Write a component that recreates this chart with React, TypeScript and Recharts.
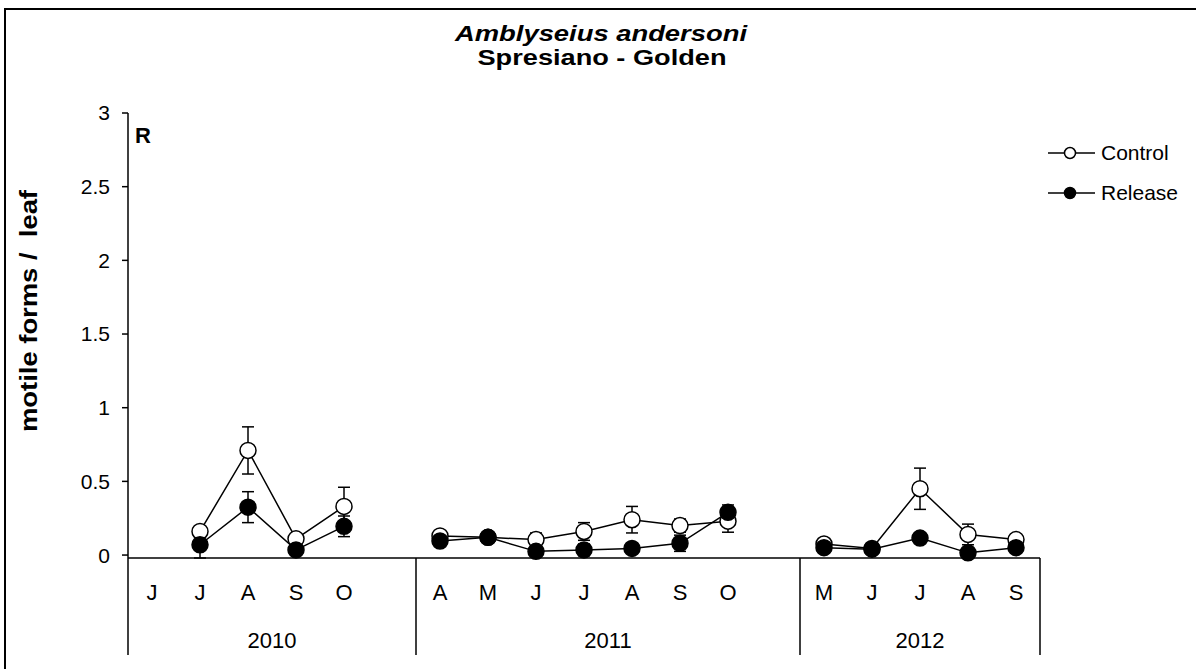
import { LineChart, Line, XAxis, YAxis, ErrorBar } from "recharts";

const FONT = '"Liberation Sans", Arial, Helvetica, sans-serif';
const W = 1196;
const H = 669;
const MARGIN = { top: 113, right: 156, bottom: 14, left: 68 };
const HALF_SLOT = 24;

// month slots, "" = empty gap slot between seasons
const months = ["J", "J", "A", "S", "O", "", "A", "M", "J", "J", "A", "S", "O", "", "M", "J", "J", "A", "S"];
const years = ["2010", "2011", "2012"];
const yearSlots = [6, 8, 5];

const control = [null, 0.16, 0.71, 0.11, 0.33, null, 0.13, 0.12, 0.105, 0.16, 0.24, 0.2, 0.23, null, 0.075, 0.045, 0.45, 0.14, 0.105];
const controlErr = [null, 0.03, 0.16, 0.02, 0.13, null, 0.03, 0.02, 0.045, 0.06, 0.09, 0.045, 0.075, null, 0.02, 0.02, 0.14, 0.07, 0.02];
const release = [null, 0.07, 0.325, 0.035, 0.195, null, 0.095, 0.12, 0.025, 0.035, 0.045, 0.08, 0.29, null, 0.05, 0.04, 0.115, 0.015, 0.05];
const releaseErr = [null, 0.09, 0.105, 0.02, 0.07, null, 0.02, 0.02, 0.02, 0.04, 0.02, 0.055, 0.05, null, 0.02, 0.02, 0.02, 0.02, 0.02];

const yTicks = [0, 0.5, 1, 1.5, 2, 2.5, 3];

const data = months.map((m, i) => ({
  slot: String(i),
  month: m,
  control: control[i],
  controlErr: controlErr[i],
  release: release[i],
  releaseErr: releaseErr[i],
}));

// first slot index of each year group
const groupStarts: number[] = [];
yearSlots.reduce((acc, n) => {
  groupStarts.push(acc);
  return acc + n;
}, 0);

function MonthTick(props: any) {
  const { x, y, index } = props;
  const half = HALF_SLOT;
  const g = groupStarts.indexOf(index);
  const isLast = index === months.length - 1;
  return (
    <g>
      <text x={x} y={y + 42} textAnchor="middle" fontSize={22} fontFamily={FONT} fill="#000">
        {months[index]}
      </text>
      {g >= 0 && (
        <>
          <line x1={x - half} x2={x - half} y1={y} y2={y + 97} stroke="#000" strokeWidth={1.5} />
          <text
            x={x - half + yearSlots[g] * half}
            y={y + 90}
            textAnchor="middle"
            fontSize={22}
            fontFamily={FONT}
            fill="#000"
          >
            {years[g]}
          </text>
        </>
      )}
      {isLast && <line x1={x + half} x2={x + half} y1={y} y2={y + 97} stroke="#000" strokeWidth={1.5} />}
    </g>
  );
}

function Overlay() {
  return (
    <svg
      width={W}
      height={H}
      style={{ position: "absolute", left: 0, top: 0, pointerEvents: "none" }}
      fontFamily={FONT}
    >
      <line x1={5} y1={9} x2={W} y2={9} stroke="#000" strokeWidth={2} />
      <line x1={5} y1={8} x2={5} y2={H} stroke="#000" strokeWidth={2} />
      <text
        x={601}
        y={41}
        textAnchor="middle"
        fontSize={22}
        fontWeight="bold"
        fontStyle="italic"
        textLength={292}
        lengthAdjust="spacingAndGlyphs"
      >
        Amblyseius andersoni
      </text>
      <text
        x={602}
        y={65}
        textAnchor="middle"
        fontSize={22}
        fontWeight="bold"
        textLength={249}
        lengthAdjust="spacingAndGlyphs"
      >
        Spresiano - Golden
      </text>
      <text x={135} y={143} fontSize={22} fontWeight="bold">
        R
      </text>
      <text
        x={0}
        y={0}
        transform="translate(37 311) rotate(-90)"
        textAnchor="middle"
        fontSize={24}
        fontWeight="bold"
        textLength={242}
        lengthAdjust="spacingAndGlyphs"
        style={{ whiteSpace: "pre" }}
      >
        motile forms /  leaf
      </text>
      <g fontSize={21}>
        <line x1={1048} x2={1095} y1={153} y2={153} stroke="#000" strokeWidth={1.5} />
        <circle cx={1070} cy={153} r={5.5} fill="#fff" stroke="#000" strokeWidth={1.5} />
        <text x={1101} y={160}>Control</text>
        <line x1={1048} x2={1095} y1={193} y2={193} stroke="#000" strokeWidth={1.5} />
        <circle cx={1070} cy={193} r={5.5} fill="#000" stroke="#000" strokeWidth={1.5} />
        <text x={1101} y={200}>Release</text>
      </g>
    </svg>
  );
}

export default function App() {
  return (
    <div style={{ position: "absolute", left: 0, top: 0, width: W, height: H, background: "#fff" }}>
      <LineChart width={W} height={H} data={data} margin={MARGIN}>
        <XAxis
          dataKey="slot"
          type="category"
          interval={0}
          padding={{ left: HALF_SLOT, right: HALF_SLOT }}
          tickLine={false}
          tickSize={0}
          tickMargin={0}
          height={97}
          axisLine={{ stroke: "#000", strokeWidth: 1.5 }}
          tick={<MonthTick />}
        />
        <YAxis
          width={60}
          domain={[0, 3]}
          ticks={yTicks}
          interval={0}
          tickSize={6}
          tickMargin={12}
          tickLine={{ stroke: "#000", strokeWidth: 1.5 }}
          axisLine={{ stroke: "#000", strokeWidth: 1.5 }}
          tick={{ fontSize: 21, fill: "#000", fontFamily: FONT }}
        />
        <Line
          dataKey="control"
          type="linear"
          stroke="#000"
          strokeWidth={1.5}
          dot={{ r: 8, fill: "#fff", stroke: "#000", strokeWidth: 1.5 }}
          activeDot={false}
          isAnimationActive={false}
        >
          <ErrorBar dataKey="controlErr" direction="y" width={6} stroke="#000" strokeWidth={1.5} />
        </Line>
        <Line
          dataKey="release"
          type="linear"
          stroke="#000"
          strokeWidth={1.5}
          dot={{ r: 8, fill: "#000", stroke: "#000", strokeWidth: 1.5 }}
          activeDot={false}
          isAnimationActive={false}
        >
          <ErrorBar dataKey="releaseErr" direction="y" width={6} stroke="#000" strokeWidth={1.5} />
        </Line>
      </LineChart>
      <Overlay />
    </div>
  );
}
